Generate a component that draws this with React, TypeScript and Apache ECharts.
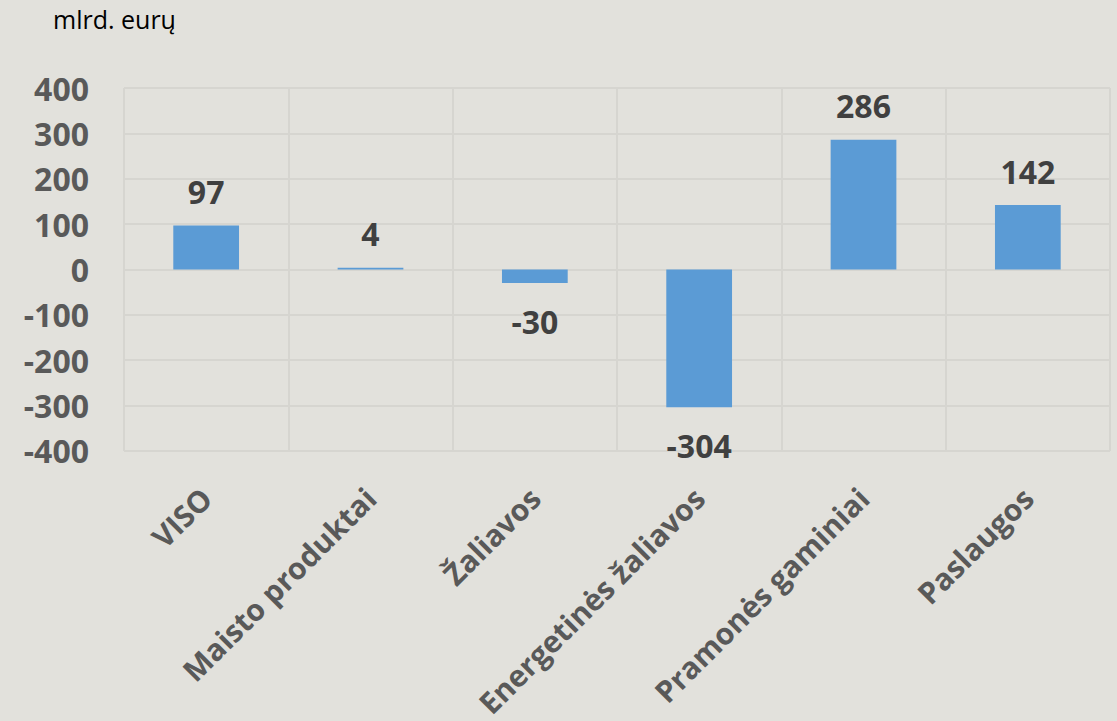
import React, { useEffect, useRef } from "react";
import * as echarts from "echarts";

const categories = ["VISO", "Maisto produktai", "Žaliavos", "Energetinės žaliavos", "Pramonės gaminiai", "Paslaugos"];
const values = [97, 4, -30, -304, 286, 142];
const unitLabel = "mlrd. eurų";

export default function App() {
  const ref = useRef<HTMLDivElement>(null);
  useEffect(() => {
    const chart = echarts.init(ref.current!, null, { renderer: "svg" });
    const gridColor = "#d6d5d0";
    chart.setOption({
      animation: false,
      backgroundColor: "#e2e1dc",
      textStyle: { fontFamily: "Open Sans" },
      graphic: [
        {
          type: "text",
          left: 53,
          top: 6,
          style: { text: unitLabel, fontSize: 25, fill: "#000", fontFamily: "Open Sans" },
        },
      ],
      grid: { left: 124, right: 7, top: 88, bottom: 269, containLabel: false },
      xAxis: {
        type: "category",
        data: categories,
        axisLine: { show: false },
        axisTick: { show: false },
        splitLine: { show: true, lineStyle: { color: gridColor, width: 2 } },
        axisLabel: {
          rotate: 45,
          interval: 0,
          margin: 42,
          fontSize: 30,
          fontWeight: "bold",
          color: "#595959",
          fontFamily: "Open Sans",
        },
      },
      yAxis: {
        type: "value",
        min: -400,
        max: 400,
        interval: 100,
        axisLine: { show: false },
        axisTick: { show: false },
        splitLine: { show: true, lineStyle: { color: gridColor, width: 2 } },
        axisLabel: {
          margin: 35,
          fontSize: 32,
          fontWeight: "bold",
          color: "#595959",
          fontFamily: "Open Sans",
        },
      },
      series: [
        {
          type: "bar",
          barWidth: "40%",
          itemStyle: { color: "#5b9bd5" },
          data: values.map((v) => ({
            value: v,
            label: v >= 0 ? { position: "top", distance: 18 } : { position: "bottom", distance: 22 },
          })),
          label: {
            show: true,
            fontSize: 32,
            fontWeight: "bold",
            color: "#404040",
            fontFamily: "Open Sans",
          },
        },
      ],
    });
    return () => chart.dispose();
  }, []);
  return <div ref={ref} style={{ width: 1117, height: 721, position: "fixed", left: 0, top: 0 }} />;
}
